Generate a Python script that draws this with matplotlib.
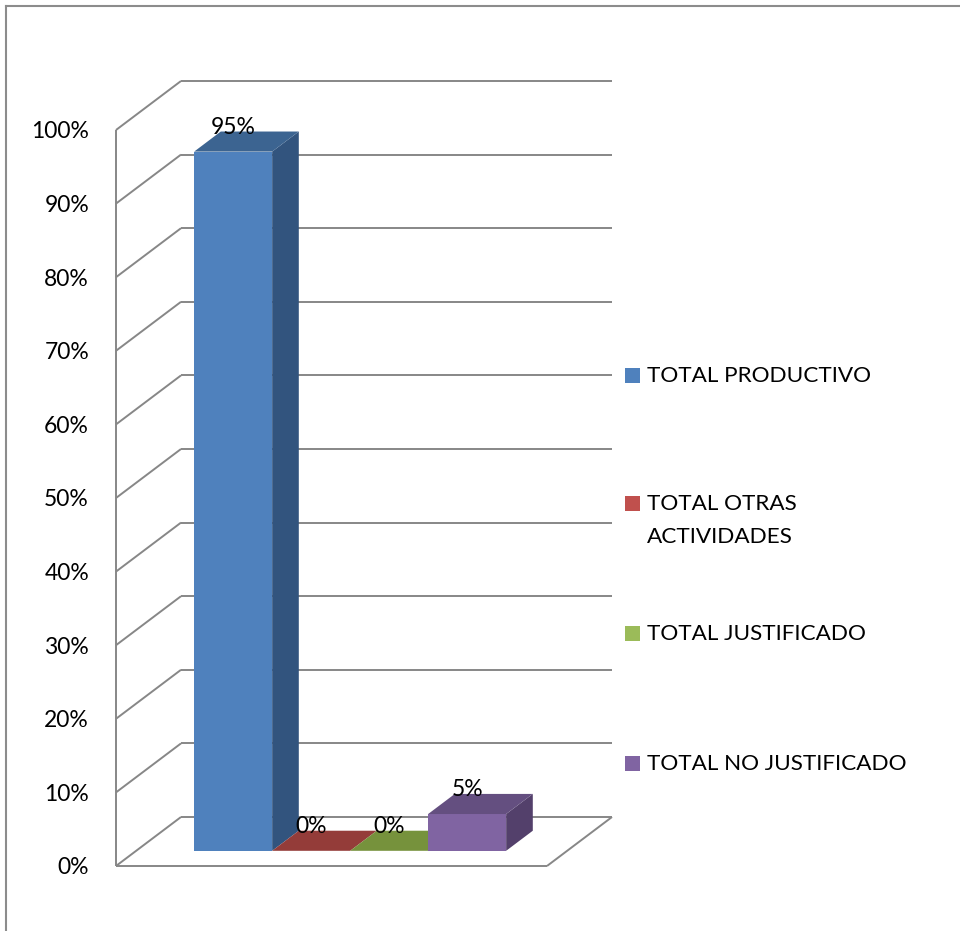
import matplotlib.pyplot as plt
from matplotlib.patches import Polygon, Rectangle
from matplotlib.lines import Line2D
from matplotlib.transforms import ScaledTranslation

# data
series = ['TOTAL PRODUCTIVO', 'TOTAL OTRAS\nACTIVIDADES', 'TOTAL JUSTIFICADO', 'TOTAL NO JUSTIFICADO']
values = [95, 0, 0, 5]
ticks = [0, 10, 20, 30, 40, 50, 60, 70, 80, 90, 100]

front_colors = ['#4F81BD', '#C0504D', '#9BBB59', '#8064A2']
top_colors = ['#3C6491', '#943C39', '#76923C', '#644F80']
side_colors = ['#32547E', '#7E3230', '#62792F', '#53406B']
legend_colors = ['#4F81BD', '#C0504D', '#9BBB59', '#8064A2']

plt.rcParams['font.family'] = ['Lato', 'DejaVu Sans']
FS = 16.5

W, H = 960, 931
fig = plt.figure(figsize=(W / 100, H / 100), dpi=100)
fig.patch.set_facecolor('white')

# front plane of the 3d box in figure pixels
left, right, bottom, top = 116, 547, 866, 130
ax = fig.add_axes([left / W, 1 - bottom / H, (right - left) / W, (bottom - top) / H])
ax.set_xlim(0, 1)
ax.set_ylim(0, 100)
ax.axis('off')

# oblique depth offset, in data units
DX = 65 / (right - left)
DY = 49 / ((bottom - top) / 100)


def proj(x, z, d):
    return x + d * DX, z + d * DY


grid_kw = dict(color='#878787', lw=1.4, clip_on=False, solid_capstyle='butt')
tick_tr = ax.transData + ScaledTranslation(-27 / 100, -2 / 100, fig.dpi_scale_trans)

# back wall gridlines and left wall diagonals
for t in ticks:
    x0, y0 = proj(0, t, 1)
    x1, y1 = proj(1, t, 1)
    ax.add_line(Line2D([x0, x1], [y0, y1], **grid_kw))
    ax.add_line(Line2D([0, x0], [t, y0], **grid_kw))
    ax.text(0, t, f'{t}%', ha='right', va='center', fontsize=FS, transform=tick_tr)

# left front edge, floor front edge and floor right edge
ax.add_line(Line2D([0, 0], [0, 100], **grid_kw))
ax.add_line(Line2D([0, 1], [0, 0], **grid_kw))
fx, fy = proj(1, 0, 1)
ax.add_line(Line2D([1, fx], [0, fy], **grid_kw))

# bars: adjacent columns sitting mid-depth
bar_w = 78 / (right - left)
x_start = 58 / (right - left)
d0, d1 = 0.31, 0.72

for i, v in enumerate(values):
    xa = x_start + i * bar_w
    xb = xa + bar_w
    front = [proj(xa, 0, d0), proj(xb, 0, d0), proj(xb, v, d0), proj(xa, v, d0)]
    side = [proj(xb, 0, d0), proj(xb, 0, d1), proj(xb, v, d1), proj(xb, v, d0)]
    topf = [proj(xa, v, d0), proj(xb, v, d0), proj(xb, v, d1), proj(xa, v, d1)]
    if v > 0:
        ax.add_patch(Polygon(front, closed=True, fc=front_colors[i], ec='none', clip_on=False, zorder=3))
        ax.add_patch(Polygon(side, closed=True, fc=side_colors[i], ec='none', clip_on=False, zorder=3))
    ax.add_patch(Polygon(topf, closed=True, fc=top_colors[i], ec='none', clip_on=False, zorder=3))
    lx, ly = proj((xa + xb) / 2, v, d0)
    ax.annotate(f'{v}%', (lx, ly), xytext=(0, 18 * 72 / 100), textcoords='offset points',
                ha='center', va='baseline', fontsize=FS, zorder=5, annotation_clip=False)

# legend
legend_tops = [365, 493, 623, 753]
for name, c, yt in zip(series, legend_colors, legend_tops):
    fig.add_artist(Rectangle((625 / W, 1 - (yt + 18) / H), 15 / W, 15 / H,
                             transform=fig.transFigure, fc=c, ec='none'))
    fig.text(647 / W, 1 - (yt + 1) / H, name, ha='left', va='top', fontsize=16.2, linespacing=1.8)

# outer frame of the chart area
fig.add_artist(Line2D([6 / W, 1], [1 - 6 / H, 1 - 6 / H], transform=fig.transFigure, color='#8c8c8c', lw=1.5))
fig.add_artist(Line2D([6 / W, 6 / W], [0, 1 - 6 / H], transform=fig.transFigure, color='#8c8c8c', lw=1.5))

fig.savefig('out.png', dpi=100)
